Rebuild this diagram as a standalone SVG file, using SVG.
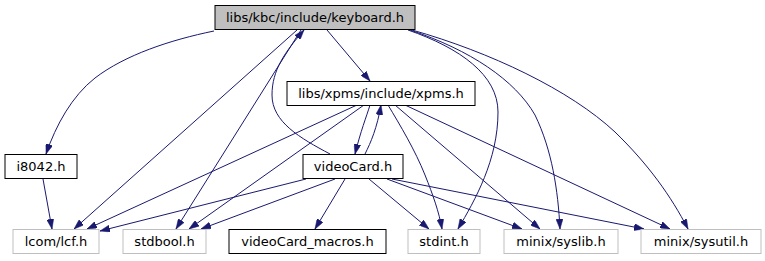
<svg xmlns="http://www.w3.org/2000/svg" width="765" height="261" viewBox="0 0 765 261">
  <style>
    .box rect { fill: #ffffff; stroke: #000000; stroke-width: 1; }
    .box.sys rect { stroke: #bfbfbf; }
    .box.root rect { fill: #bfbfbf; }
    .box text { font-family: "DejaVu Sans", sans-serif; font-size: 13px; fill: #000000; text-anchor: middle; }
    .edge { fill: none; stroke: #191970; stroke-width: 1; marker-end: url(#arrow); }
  </style>
  <defs>
    <marker id="arrow" viewBox="0 0 10 7" refX="10" refY="3.5" markerWidth="10" markerHeight="7" markerUnits="userSpaceOnUse" orient="auto">
      <path d="M0,0 L10,3.5 L0,7 z" fill="#191970" stroke="#191970" stroke-width="0.5"/>
    </marker>
  </defs>

  <rect width="765" height="261" fill="#ffffff"/>

  <!-- include edges -->
  <g id="edges">
    <path class="edge" d="M214,31 C170,40 125,55 95,78 C72,96 56,125 46,154"/>
    <path class="edge" d="M43,179 L52,229"/>
    <path class="edge" d="M327,30 L370,81"/>
    <path class="edge" d="M297,30 L74,229"/>
    <path class="edge" d="M301,30 L176,229"/>
    <path class="edge" d="M330,154 C300,138 272,122 272,95 C272,70 285,52 304,30"/>
    <path class="edge" d="M408,30 C460,48 498,75 498,112 C498,160 475,200 458,229"/>
    <path class="edge" d="M410,30 C470,50 515,80 535,115 C552,150 558,190 560,229"/>
    <path class="edge" d="M412,30 C490,52 570,90 615,132 C648,164 671,196 688,229"/>
    <path class="edge" d="M370,105 C366,118 361,130 355,154"/>
    <path class="edge" d="M365,154 C371,142 377,128 381,105"/>
    <path class="edge" d="M357,105 L87,229"/>
    <path class="edge" d="M364,105 L189,229"/>
    <path class="edge" d="M388,105 C400,125 415,150 425,175 C433,195 439,212 442,229"/>
    <path class="edge" d="M395,105 L540,229"/>
    <path class="edge" d="M405,105 L670,229"/>
    <path class="edge" d="M306,179 L100,231"/>
    <path class="edge" d="M335,179 L201,229"/>
    <path class="edge" d="M345,179 L315,229"/>
    <path class="edge" d="M369,179 L429,229"/>
    <path class="edge" d="M387,179 L522,229"/>
    <path class="edge" d="M392,179 L644,229"/>
  </g>

  <g id="keyboard_h" class="box root">
    <rect x="215" y="5.5" width="200" height="24"/>
    <text x="315" y="22">libs/kbc/include/keyboard.h</text>
  </g>
  <g id="xpms_h" class="box">
    <rect x="287" y="81.5" width="188" height="24"/>
    <text x="381" y="98">libs/xpms/include/xpms.h</text>
  </g>
  <g id="i8042_h" class="box">
    <rect x="5" y="154.5" width="72" height="24"/>
    <text x="41" y="171">i8042.h</text>
  </g>
  <g id="videoCard_h" class="box">
    <rect x="303" y="154.5" width="100" height="24"/>
    <text x="353" y="171">videoCard.h</text>
  </g>
  <g id="lcf_h" class="box sys">
    <rect x="13" y="229.5" width="86" height="24"/>
    <text x="56" y="246">lcom/lcf.h</text>
  </g>
  <g id="stdbool_h" class="box sys">
    <rect x="123" y="229.5" width="83" height="24"/>
    <text x="164.5" y="246">stdbool.h</text>
  </g>
  <g id="videoCard_macros_h" class="box">
    <rect x="229" y="229.5" width="157" height="24"/>
    <text x="307.5" y="246">videoCard_macros.h</text>
  </g>
  <g id="stdint_h" class="box sys">
    <rect x="408" y="229.5" width="72" height="24"/>
    <text x="444" y="246">stdint.h</text>
  </g>
  <g id="syslib_h" class="box sys">
    <rect x="504" y="229.5" width="114" height="24"/>
    <text x="561" y="246">minix/syslib.h</text>
  </g>
  <g id="sysutil_h" class="box sys">
    <rect x="641" y="229.5" width="120" height="24"/>
    <text x="701" y="246">minix/sysutil.h</text>
  </g>
</svg>
